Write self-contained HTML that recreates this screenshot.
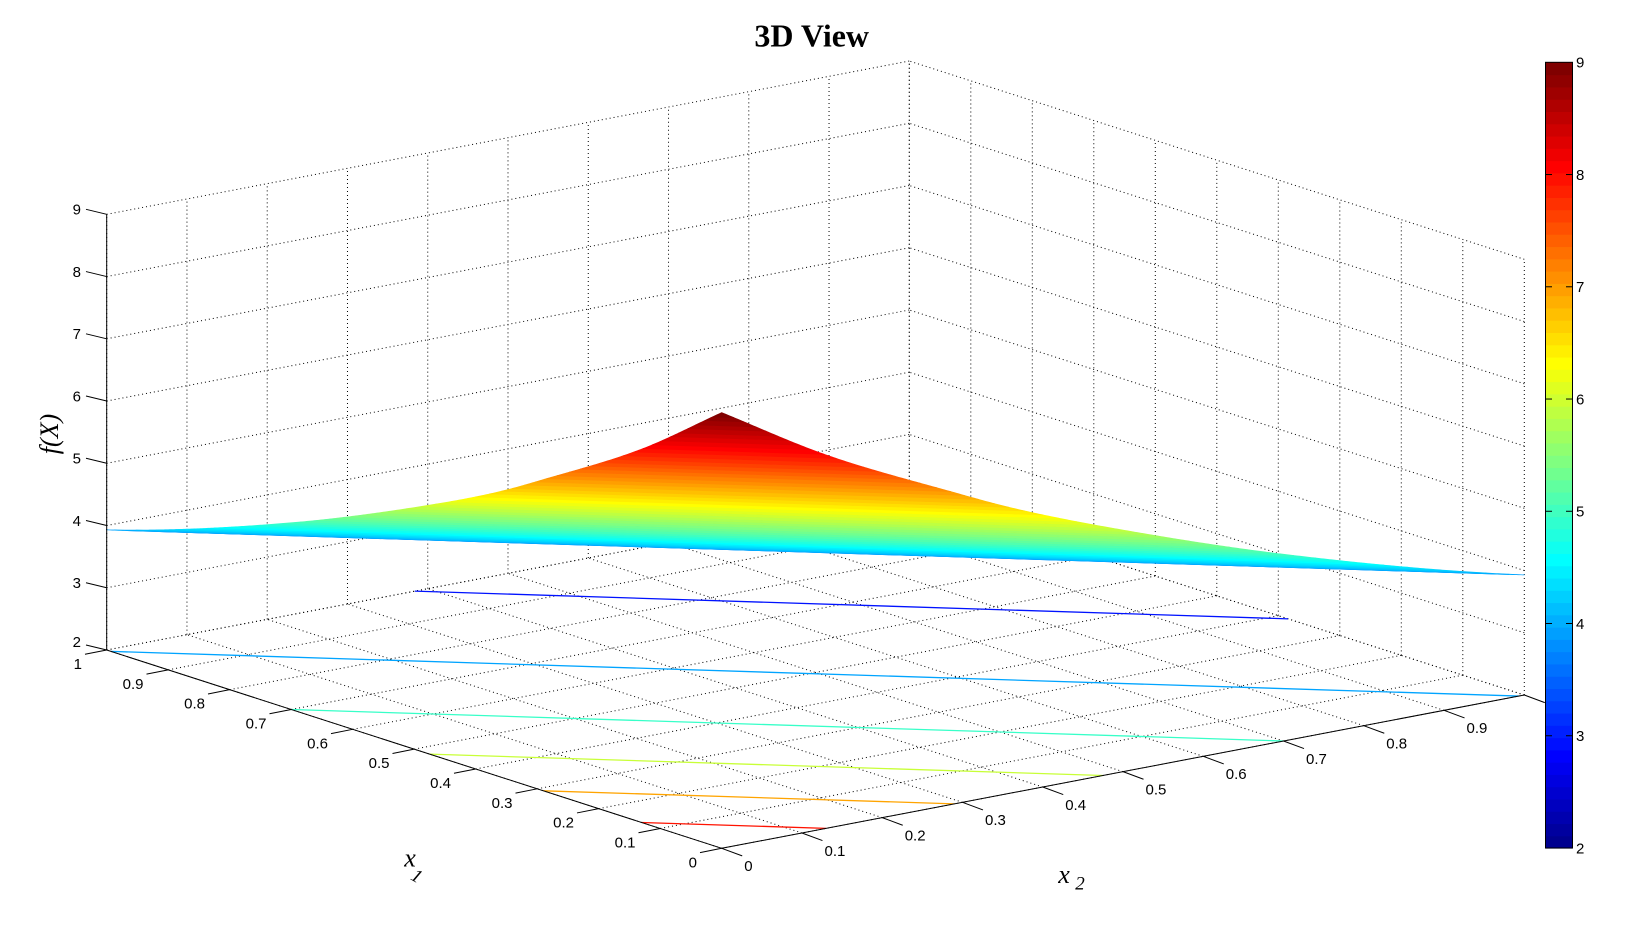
<!DOCTYPE html>
<html><head><meta charset="utf-8">
<style>
html,body{margin:0;padding:0;background:#fff;width:1632px;height:945px;overflow:hidden;}
svg{display:block;}
.t{font-family:"Liberation Sans",Arial,sans-serif;font-size:15px;fill:#000;}
.s{font-family:"Liberation Serif","Times New Roman",serif;fill:#000;}
</style></head>
<body>
<svg id="svg" width="1632" height="945" viewBox="0 0 1632 945" xmlns="http://www.w3.org/2000/svg">
<rect width="1632" height="945" fill="#fff"/>
<g id="grid" fill="none" stroke="#000" stroke-width="1" stroke-dasharray="1 3"></g>
<g id="cont" fill="none" stroke-width="1.3"></g>
<g id="surf"></g>
<g id="axes" stroke="#000" stroke-width="1" fill="none"></g>

<!-- title -->
<text class="s" x="811.7" y="46.7" text-anchor="middle" font-weight="bold" font-size="32">3D View</text>

<!-- z tick labels -->
<g class="t" text-anchor="end">
<text x="81" y="214.7">9</text>
<text x="81" y="277">8</text>
<text x="81" y="339.2">7</text>
<text x="81" y="401.4">6</text>
<text x="81" y="463.7">5</text>
<text x="81" y="525.9">4</text>
<text x="81" y="588.2">3</text>
<text x="81" y="647">2</text>
</g>

<!-- x1 tick labels -->
<g class="t" text-anchor="end">
<text x="697" y="867.3">0</text>
<text x="635.5" y="847.5">0.1</text>
<text x="574" y="827.6">0.2</text>
<text x="512.5" y="807.8">0.3</text>
<text x="451" y="788">0.4</text>
<text x="389.5" y="768.1">0.5</text>
<text x="328" y="748.3">0.6</text>
<text x="266.5" y="728.5">0.7</text>
<text x="205" y="708.7">0.8</text>
<text x="143.5" y="688.8">0.9</text>
<text x="82" y="669">1</text>
</g>

<!-- x2 tick labels -->
<g class="t" text-anchor="start">
<text x="744.2" y="871.2">0</text>
<text x="824.5" y="855.9">0.1</text>
<text x="904.7" y="840.5">0.2</text>
<text x="985" y="825.2">0.3</text>
<text x="1065.2" y="809.9">0.4</text>
<text x="1145.5" y="794.5">0.5</text>
<text x="1225.8" y="779.2">0.6</text>
<text x="1306" y="763.9">0.7</text>
<text x="1386.3" y="748.6">0.8</text>
<text x="1466.5" y="733.2">0.9</text>
</g>

<!-- axis labels -->
<text class="s" transform="translate(58,434) rotate(-90)" text-anchor="middle" font-style="italic" font-size="26">f(X)</text>
<text class="s" x="404.2" y="866.5" font-style="italic" font-size="26">x</text>
<text class="s" x="412" y="882" font-style="italic" font-size="19" transform="rotate(30 416.7 876)">1</text>
<text class="s" x="1058.3" y="883" font-style="italic" font-size="26">x</text>
<text class="s" x="1075.3" y="889.5" font-style="italic" font-size="19">2</text>

<g id="cbar"></g>
<!-- colorbar labels -->
<g class="t" text-anchor="start">
<text x="1576" y="67.6">9</text>
<text x="1576" y="179.8">8</text>
<text x="1576" y="292.1">7</text>
<text x="1576" y="404.3">6</text>
<text x="1576" y="516.6">5</text>
<text x="1576" y="628.8">4</text>
<text x="1576" y="741.1">3</text>
<text x="1576" y="853.3">2</text>
</g>
</svg>
<script>
(function(){
var NS="http://www.w3.org/2000/svg";
function P(a,b,z){return [721.7-615*a+802.6*b, 848.3-198.3*a-153.3*b-62.24*(z-2)];}
function el(parent,tag,attrs){var e=document.createElementNS(NS,tag);for(var k in attrs)e.setAttribute(k,attrs[k]);parent.appendChild(e);return e;}
function line(g,p,q,extra){var a={x1:p[0].toFixed(2),y1:p[1].toFixed(2),x2:q[0].toFixed(2),y2:q[1].toFixed(2)};if(extra)for(var k in extra)a[k]=extra[k];return el(g,'line',a);}
var S=[0,0.13,0.29,0.361,0.475,0.70,1.0,1.384,2.0], G=[9,8,7,6.58,6,5,3.93,3,2];
// monotone cubic (Fritsch-Carlson)
var n=S.length, d=[], m=[];
for(var i=0;i<n-1;i++){d.push((G[i+1]-G[i])/(S[i+1]-S[i]));}
m[0]=d[0]; m[n-1]=d[n-2];
for(var i=1;i<n-1;i++){m[i]=(d[i-1]*d[i]<=0)?0:(d[i-1]+d[i])/2;}
for(var i=0;i<n-1;i++){
  if(d[i]===0){m[i]=0;m[i+1]=0;continue;}
  var a=m[i]/d[i], b=m[i+1]/d[i], q=a*a+b*b;
  if(q>9){var tau=3/Math.sqrt(q);m[i]=tau*a*d[i];m[i+1]=tau*b*d[i];}
}
function gf(s){
  if(s<=S[0])return G[0];
  for(var i=0;i<n-1;i++){
    if(s<=S[i+1]){
      var h=S[i+1]-S[i], t=(s-S[i])/h, t2=t*t, t3=t2*t;
      return (2*t3-3*t2+1)*G[i]+(t3-2*t2+t)*h*m[i]+(-2*t3+3*t2)*G[i+1]+(t3-t2)*h*m[i+1];
    }
  }
  return G[n-1];
}
function u(k){if(k<1)return 0;if(k<=16)return k/16;if(k<=31)return 1;if(k<=47)return (48-k)/16;return 0;}
function jet(j){var r=j>=25?u(j-24):0, gg=(j>=9&&j<=55)?u(j-8):0, b=j<=39?u(j+8):0;return 'rgb('+Math.round(r*255)+','+Math.round(gg*255)+','+Math.round(b*255)+')';}
function idx(f){var j=Math.floor((f-2)/7*64)+1;return Math.max(1,Math.min(64,j));}
function cl(x){return Math.max(0,Math.min(1,x));}
function jetc(f){var v=(f-2)/7;return 'rgb('+Math.round(255*cl(1.5-Math.abs(4*v-3)))+','+Math.round(255*cl(1.5-Math.abs(4*v-2)))+','+Math.round(255*cl(1.5-Math.abs(4*v-1)))+')';}
function e1(s){return s<=1?[s,0]:[1,s-1];}
function e2(s){return s<=1?[0,s]:[s-1,1];}

// grid
var grid=document.getElementById('grid');
for(var i=0;i<=10;i++){var v=i/10;
  line(grid,P(v,0,2),P(v,1,2));
  line(grid,P(0,v,2),P(1,v,2));
  line(grid,P(1,v,2),P(1,v,9));
  line(grid,P(v,1,2),P(v,1,9));
}
for(var z=2;z<=9;z++){
  line(grid,P(1,0,z),P(1,1,z));
  line(grid,P(0,1,z),P(1,1,z));
}

// floor contours
var cont=document.getElementById('cont');
var lev=[[8,0.13],[7,0.29],[6,0.475],[5,0.70],[4,0.993],[3,1.384]];
lev.forEach(function(l){var a=e1(l[1]),b=e2(l[1]);line(cont,P(a[0],a[1],2),P(b[0],b[1],2),{stroke:jetc(l[0])});});

// surface
var surf=document.getElementById('surf');
var N=800, ds=2/N, groups=[], cur=null;
for(var k=0;k<N;k++){
  var sm=(k+0.5)*ds, j=idx(gf(sm));
  if(cur&&cur.j===j){cur.kb=k+1;}else{cur={j:j,ka:k,kb:k+1};groups.push(cur);}
}
for(var q=groups.length-1;q>=0;q--){
  var gr=groups[q], pts=[];
  for(var k=gr.ka;k<=gr.kb;k++){var s=k*ds,a=e1(s),p=P(a[0],a[1],gf(s));pts.push(p[0].toFixed(2)+','+p[1].toFixed(2));}
  for(var k=gr.kb;k>=gr.ka;k--){var s=k*ds,b=e2(s),p=P(b[0],b[1],gf(s));pts.push(p[0].toFixed(2)+','+p[1].toFixed(2));}
  var c=jet(gr.j);
  el(surf,'polygon',{points:pts.join(' '),fill:c,stroke:c,'stroke-width':'0.7','stroke-linejoin':'round'});
}

// axes
var ax=document.getElementById('axes');
line(ax,P(0,0,2),P(1,0,2));
line(ax,P(0,0,2),P(0,1,2));
line(ax,P(1,0,2),P(1,0,9));
for(var i=0;i<=10;i++){var v=i/10;
  var p=P(v,0,2);line(ax,p,[p[0]-21.7,p[1]+4.3]);
  var r=P(0,v,2);line(ax,r,[r[0]+20.5,r[1]+7.6]);
}
for(var z=2;z<=9;z++){var p=P(1,0,z);line(ax,p,[p[0]-20.7,p[1]-5]);}

// colorbar
var cb=document.getElementById('cbar');
var top=62.3,bot=848,h=(bot-top)/64,L=1545.5,W=27;
for(var j=1;j<=64;j++){
  var y=bot-j*h;
  el(cb,'rect',{x:L,y:y.toFixed(2),width:W,height:(h+0.6).toFixed(2),fill:jet(j)});
}
el(cb,'rect',{x:L,y:top,width:W,height:(bot-top).toFixed(2),fill:'none',stroke:'#000','stroke-width':'1'});
for(var v=3;v<=8;v++){
  var y=top+(9-v)*(bot-top)/7;
  line(cb,[L,y],[L+6.5,y],{stroke:'#000','stroke-width':'1'});
  line(cb,[L+W-6.5,y],[L+W,y],{stroke:'#000','stroke-width':'1'});
}
})();
</script>
</body></html>
